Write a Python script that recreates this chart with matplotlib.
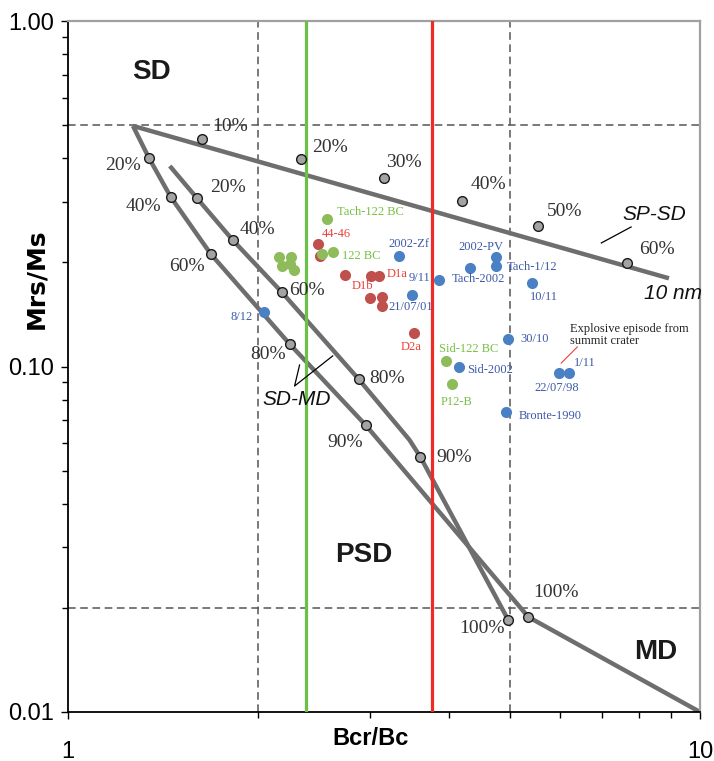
# Day plot (Mrs/Ms vs Bcr/Bc) with SD-MD and SP-SD mixing curves

import numpy as np
import matplotlib
matplotlib.use("Agg")
import matplotlib.pyplot as plt
from matplotlib.ticker import FixedLocator, FixedFormatter, NullFormatter, LogLocator


# Data -----------------------------------------------------------------
# SP-SD mixing curve (10 nm)
spsd_line_x = [1.267, 8.93]
spsd_line_y = [0.497, 0.180]
spsd_mark_x = [1.628, 2.334, 3.157, 4.207, 5.546, 7.67]
spsd_mark_y = [0.4556, 0.3988, 0.3513, 0.3013, 0.2551, 0.1995]
spsd_pct = ["10%", "20%", "30%", "40%", "50%", "60%"]

# SD-MD mixing curve 1 (outer)
sdmd1_line_x = [1.267, 1.343, 1.454, 1.682, 2.242, 2.957, 5.35, 10.0]
sdmd1_line_y = [0.497, 0.4014, 0.3095, 0.2117, 0.1162, 0.0677, 0.01884, 0.01]
sdmd1_mark_x = [1.343, 1.454, 1.682, 2.242, 2.957, 5.35]
sdmd1_mark_y = [0.4014, 0.3095, 0.2117, 0.1162, 0.0677, 0.01884]
sdmd1_pct = ["20%", "40%", "60%", "80%", "90%", "100%"]

# SD-MD mixing curve 2 (inner)
sdmd2_line_x = [1.449, 1.599, 1.822, 2.178, 2.882, 3.47, 3.611, 4.973]
sdmd2_line_y = [0.3805, 0.3074, 0.2323, 0.1643, 0.092, 0.0613, 0.0547, 0.01846]
sdmd2_mark_x = [1.599, 1.822, 2.178, 2.882, 3.611, 4.973]
sdmd2_mark_y = [0.3074, 0.2323, 0.1643, 0.092, 0.0547, 0.01846]
sdmd2_pct = ["20%", "40%", "60%", "80%", "90%", "100%"]

# Samples
green_x = [2.566, 2.154, 2.250, 2.178, 2.242, 2.275, 2.519, 2.623, 3.970, 4.057]
green_y = [0.2673, 0.2075, 0.2075, 0.1954, 0.1980, 0.1902, 0.2117, 0.2145, 0.1037, 0.0890]
green_names = ["Tach-122 BC", "", "", "", "", "", "", "122 BC", "Sid-122 BC", "P12-B"]

red_x = [2.483, 2.509, 2.740, 3.011, 3.100, 3.000, 3.134, 3.134, 3.533]
red_y = [0.2262, 0.2089, 0.1840, 0.1827, 0.1827, 0.1579, 0.1590, 0.1497, 0.1250]
red_names = ["44-46", "", "D1b", "", "D1a", "", "", "", "D2a"]

blue_x = [3.334, 3.869, 4.331, 3.508, 4.761, 4.761, 5.428, 2.040, 4.973,
          4.162, 4.937, 5.989, 6.209]
blue_y = [0.2089, 0.1780, 0.1928, 0.1611, 0.2075, 0.1954, 0.1744, 0.1438,
          0.1201, 0.0997, 0.0738, 0.0958, 0.0958]
blue_names = ["2002-Zf", "9/11", "Tach-2002", "21/07/01", "2002-PV", "Tach-1/12",
              "10/11", "8/12", "30/10", "Sid-2002", "Bronte-1990", "22/07/98", "1/11"]

# Reference limits
bc_ratio_lines = [2.0, 5.0]
ms_ratio_lines = [0.5, 0.02]
green_limit = 2.38
red_limit = 3.77


# Layout (label offsets in pixels: dx, dy, ha) ---------------------------
name_offsets = {
    "Tach-122 BC": (10, 7, "left"), "122 BC": (9, -4, "left"),
    "Sid-122 BC": (-7, 12, "left"), "P12-B": (4, -18, "center"),
    "44-46": (4, 10, "left"), "D1b": (18, -11, "center"),
    "D1a": (8, 2, "left"), "D2a": (-3, -14, "center"),
    "2002-Zf": (10, 12, "center"), "9/11": (-9, 2, "right"),
    "Tach-2002": (-19, -11, "left"), "21/07/01": (-2, -12, "center"),
    "2002-PV": (-15, 10, "center"), "Tach-1/12": (10, -1, "left"),
    "10/11": (12, -14, "center"), "8/12": (-11, -5, "right"),
    "30/10": (12, 0, "left"), "Sid-2002": (8, -3, "left"),
    "Bronte-1990": (12, -4, "left"), "22/07/98": (-3, -15, "center"),
    "1/11": (5, 10, "left"),
}
spsd_offsets = [(28, 12), (29, 11), (20, 15), (26, 17), (26, 14), (30, 13)]
sdmd1_offsets = [(-26, -8), (-27, -10), (-24, -13), (-22, -11), (-20, -17), (28, 24)]
sdmd2_offsets = [(31, 10), (25, 11), (25, 1), (29, 1), (34, 0), (-26, -8)]


# Plot -----------------------------------------------------------------
fig = plt.figure(figsize=(7.14, 7.61), dpi=100)
ax = fig.add_axes([68 / 714, 1 - 712 / 761, 632 / 714, 691 / 761])
ax.set_xscale("log")
ax.set_yscale("log")
ax.set_xlim(1, 10)
ax.set_ylim(0.01, 1)

# dashed domain boundaries
for xv in bc_ratio_lines:
    ax.axvline(xv, color="#555555", lw=1.1, ls=(0, (5, 3)), zorder=1)
for yv in ms_ratio_lines:
    ax.axhline(yv, color="#555555", lw=1.1, ls=(0, (5, 3)), zorder=1)

ax.axvline(green_limit, color="#6cc04a", lw=2.3, zorder=3)
ax.axvline(red_limit, color="#ee2b25", lw=2.3, zorder=3)

# mixing curves
line_kw = dict(color="#6e6e6e", lw=3.2, solid_capstyle="butt", zorder=2)
mark_kw = dict(ls="none", marker="o", ms=7, mfc="#a3a3a3", mec="#1a1a1a",
               mew=1, zorder=4)
pct_kw = dict(textcoords="offset pixels", ha="center", va="center",
              fontsize=14, family="Liberation Serif", color="#333333", zorder=6)

for lx, ly, mx, my, pct, offs in [
        (spsd_line_x, spsd_line_y, spsd_mark_x, spsd_mark_y, spsd_pct, spsd_offsets),
        (sdmd1_line_x, sdmd1_line_y, sdmd1_mark_x, sdmd1_mark_y, sdmd1_pct, sdmd1_offsets),
        (sdmd2_line_x, sdmd2_line_y, sdmd2_mark_x, sdmd2_mark_y, sdmd2_pct, sdmd2_offsets)]:
    ax.plot(lx, ly, **line_kw)
    ax.plot(mx, my, **mark_kw)
    for x, y, t, (dx, dy) in zip(mx, my, pct, offs):
        ax.annotate(t, (x, y), xytext=(dx, dy), **pct_kw)

# samples
groups = [(red_x, red_y, red_names, "#c0504d", "#e8403a"),
          (green_x, green_y, green_names, "#8fbc5a", "#76c043"),
          (blue_x, blue_y, blue_names, "#4a80c4", "#3d5aa8")]
for gx, gy, names, dot_col, txt_col in groups:
    ax.plot(gx, gy, ls="none", marker="o", ms=8, mfc=dot_col, mec="none", zorder=5)
    for x, y, name in zip(gx, gy, names):
        if name == "":
            continue
        dx, dy, ha = name_offsets[name]
        ax.annotate(name, (x, y), xytext=(dx, dy), textcoords="offset pixels",
                    ha=ha, va="center", fontsize=9, family="Liberation Serif",
                    color=txt_col, zorder=6)

# annotations
ax.text(6.232, 0.1237, "Explosive episode from\nsummit crater", fontsize=9,
        family="Liberation Serif", color="#222222", ha="left", va="center",
        linespacing=1.0)
ax.plot([6.395, 6.031], [0.1139, 0.1023], color="#e8403a", lw=0.8, zorder=6)
ax.plot([6.98, 7.78], [0.2278, 0.2534], color="black", lw=0.9, zorder=6)
ax.plot([2.325, 2.283, 2.623], [0.101, 0.0878, 0.1073], color="black", lw=0.9,
        zorder=6)

ital = dict(fontsize=15, style="italic", family="Liberation Sans",
            ha="center", va="center", color="#111111")
ax.text(8.459, 0.2745, "SP-SD", **ital)
ax.text(9.065, 0.1622, "10 nm", **ital)
ax.text(2.300, 0.0805, "SD-MD", **ital)

region = dict(fontsize=20, fontweight="bold", family="Liberation Sans",
              ha="center", va="center", color="#1a1a1a")
ax.text(1.357, 0.7117, "SD", **region)
ax.text(2.935, 0.02847, "PSD", **region)
ax.text(8.521, 0.01492, "MD", **region)

# axes style
ax.xaxis.set_major_locator(FixedLocator([1, 10]))
ax.xaxis.set_major_formatter(FixedFormatter(["1", "10"]))
ax.xaxis.set_minor_locator(LogLocator(base=10, subs=np.arange(2, 10)))
ax.xaxis.set_minor_formatter(NullFormatter())
ax.yaxis.set_major_locator(FixedLocator([0.01, 0.1, 1]))
ax.yaxis.set_major_formatter(FixedFormatter(["0.01", "0.10", "1.00"]))
ax.yaxis.set_minor_locator(LogLocator(base=10, subs=np.arange(2, 10)))
ax.yaxis.set_minor_formatter(NullFormatter())

ax.tick_params(which="both", direction="out", width=1, color="black")
ax.tick_params(which="major", length=5)
ax.tick_params(which="minor", length=4)
ax.tick_params(axis="x", which="major", pad=16, labelsize=17)
ax.tick_params(axis="y", which="major", pad=5, labelsize=17)
for lab in ax.get_xticklabels() + ax.get_yticklabels():
    lab.set_family("Liberation Sans")

for side in ["left", "bottom"]:
    ax.spines[side].set_color("black")
    ax.spines[side].set_linewidth(1.3)
for side in ["top", "right"]:
    ax.spines[side].set_color("#a0a0a0")
    ax.spines[side].set_linewidth(1.6)

ax.text(0.479, -0.039, "Bcr/Bc", transform=ax.transAxes, ha="center",
        va="center", fontsize=17, fontweight="bold",
        family=["Liberation Sans Narrow", "Liberation Sans"])
ax.text(-0.0506, 0.6266, "Mrs/Ms", transform=ax.transAxes, ha="center",
        va="center", rotation=90, fontsize=18, fontweight="bold",
        family="DejaVu Sans")

fig.savefig("out.png", dpi=100)
plt.close(fig)
